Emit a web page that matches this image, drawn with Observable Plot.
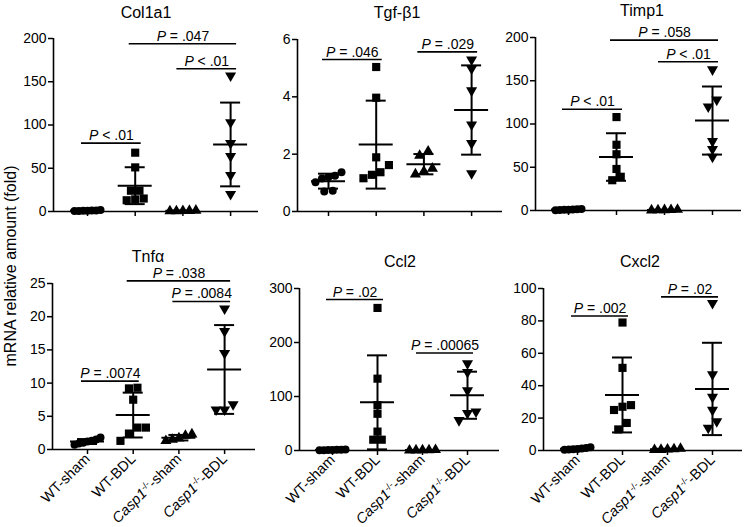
<!DOCTYPE html>
<html><head><meta charset="utf-8">
<script src="https://cdn.jsdelivr.net/npm/d3@7"></script>
<script src="https://cdn.jsdelivr.net/npm/@observablehq/plot@0.6"></script>
<style>
body{margin:0;background:#fff;}
#chart{position:relative;width:747px;height:527px;overflow:hidden;font-family:"Liberation Sans",Arial,sans-serif;color:#000;}
.title{position:absolute;font-size:16px;transform:translate(-50%,-50%);white-space:nowrap;}
.ylab{position:absolute;font-size:16px;white-space:nowrap;transform:translate(-50%,-50%) rotate(-90deg);}
#chart svg{position:absolute;overflow:visible;}
</style></head>
<body><div id="chart"></div>
<script>
// ---------- data ----------
const groups = ["WT-sham", "WT-BDL", "Casp1-/- -sham", "Casp1-/- -BDL"];
const yTitle = "mRNA relative amount (fold)";

const col1a1Ticks = [0, 50, 100, 150, 200];
const col1a1WtSham = [1.6, 1.3, 1.1, 1.0, 0.9, 0.7, 0.5];
const col1a1WtBdl = [68, 51, 24, 24, 15, 14, 13];
const col1a1CaspSham = [1.2, 0.9, 0.7, 0.5, 0.4];
const col1a1CaspBdl = [157, 103, 79, 64, 42, 20];
const col1a1Brackets = [
  {from: 0, to: 1, y: 79, label: "P < .01"},
  {from: 1, to: 3, y: 194, label: "P = .047"},
  {from: 2, to: 3, y: 165, label: "P < .01"}
];

const tgfTicks = [0, 2, 4, 6];
const tgfWtSham = [1.37, 1.25, 1.2, 1.15, 1.02, 0.72, 0.70];
const tgfWtBdl = [5.04, 3.97, 1.89, 1.62, 1.37, 1.28, 1.16];
const tgfCaspSham = [2.1, 1.95, 1.5, 1.4, 1.3];
const tgfCaspBdl = [5.3, 4.98, 4.22, 3.03, 2.38, 1.33];
const tgfBrackets = [
  {from: 0, to: 1, y: 5.3, label: "P = .046"},
  {from: 2, to: 3, y: 5.57, label: "P = .029"}
];

const timp1Ticks = [0, 50, 100, 150, 200];
const timp1WtSham = [1.8, 1.4, 1.1, 1.0, 0.8, 0.6, 0.4];
const timp1WtBdl = [108, 76, 65, 48, 39, 35];
const timp1CaspSham = [1.0, 0.8, 0.6, 0.4, 0.3];
const timp1CaspBdl = [163, 128, 120, 80, 71, 62];
const timp1Brackets = [
  {from: 0, to: 1, y: 117, label: "P < .01"},
  {from: 1, to: 3, y: 197, label: "P = .058"},
  {from: 2, to: 3, y: 172, label: "P < .01"}
];

const tnfTicks = [0, 5, 10, 15, 20, 25];
const tnfWtSham = [1.8, 1.5, 1.3, 1.2, 1.0, 0.9, 0.7];
const tnfWtBdl = [9.3, 9.2, 7.5, 3.3, 3.3, 2.4, 1.3];
const tnfCaspSham = [2.3, 2.1, 1.7, 1.5, 1.3];
const tnfCaspBdl = [21.2, 17.8, 14.5, 6.8, 6.0, 6.0];
const tnfBrackets = [
  {from: 0, to: 1, y: 10.3, label: "P = .0074"},
  {from: 1, to: 3, y: 25.4, label: "P = .038"},
  {from: 2, to: 3, y: 22.3, label: "P = .0084"}
];

const ccl2Ticks = [0, 100, 200, 300];
const ccl2WtSham = [2.0, 1.5, 1.2, 1.0, 0.8, 0.6, 0.4];
const ccl2WtBdl = [264, 133, 84, 68, 35, 20, 20];
const ccl2CaspSham = [1.2, 0.9, 0.7, 0.5, 0.3];
const ccl2CaspBdl = [161, 145, 111, 72, 69, 56];
const ccl2Brackets = [
  {from: 0, to: 1, y: 279.5, label: "P = .02"},
  {from: 2, to: 3, y: 180.6, label: "P = .00065"}
];

const cxcl2Ticks = [0, 20, 40, 60, 80, 100];
const cxcl2WtSham = [2.0, 1.6, 1.3, 1.0, 0.8, 0.6, 0.4];
const cxcl2WtBdl = [79, 51, 28, 27, 25, 17, 13];
const cxcl2CaspSham = [1.2, 0.9, 0.7, 0.5, 0.4];
const cxcl2CaspBdl = [91, 47, 33, 25, 18, 14];
const cxcl2Brackets = [
  {from: 0, to: 1, y: 83, label: "P = .002"},
  {from: 2, to: 3, y: 94.8, label: "P = .02"}
];

// ---------- panels ----------
const panels = [
  {title: "Col1a1", ticks: col1a1Ticks, series: [col1a1WtSham, col1a1WtBdl, col1a1CaspSham, col1a1CaspBdl], brackets: col1a1Brackets},
  {title: "Tgf-β1", ticks: tgfTicks, series: [tgfWtSham, tgfWtBdl, tgfCaspSham, tgfCaspBdl], brackets: tgfBrackets},
  {title: "Timp1", ticks: timp1Ticks, series: [timp1WtSham, timp1WtBdl, timp1CaspSham, timp1CaspBdl], brackets: timp1Brackets},
  {title: "Tnfα", ticks: tnfTicks, series: [tnfWtSham, tnfWtBdl, tnfCaspSham, tnfCaspBdl], brackets: tnfBrackets},
  {title: "Ccl2", ticks: ccl2Ticks, series: [ccl2WtSham, ccl2WtBdl, ccl2CaspSham, ccl2CaspBdl], brackets: ccl2Brackets},
  {title: "Cxcl2", ticks: cxcl2Ticks, series: [cxcl2WtSham, cxcl2WtBdl, cxcl2CaspSham, cxcl2CaspBdl], brackets: cxcl2Brackets}
];

// layout (page pixels)
const layouts = [
  {left: 53, right: 258, top: 38, bottom: 211, x0: 87, step: 47.7, titleX: 146, titleY: 13, bottomRow: false},
  {left: 297, right: 502, top: 39, bottom: 211, x0: 328, step: 47.7, titleX: 397, titleY: 13, bottomRow: false},
  {left: 535, right: 741, top: 37, bottom: 210, x0: 568, step: 48, titleX: 642, titleY: 11, bottomRow: false},
  {left: 52, right: 255, top: 283, bottom: 449, x0: 87, step: 45.7, titleX: 148, titleY: 257, bottomRow: true},
  {left: 299, right: 499, top: 288, bottom: 450, x0: 332, step: 45, titleX: 400, titleY: 262, bottomRow: true},
  {left: 543, right: 742, top: 288, bottom: 450, x0: 577, step: 45, titleX: 640, titleY: 262, bottomRow: true}
];

const s3 = Math.sqrt(3);
const triangleDown = {draw(ctx, size) {
  const y = -Math.sqrt(size / (s3 * 3));
  ctx.moveTo(0, -y * 2); ctx.lineTo(-s3 * y, y); ctx.lineTo(s3 * y, y); ctx.closePath();
}};
const symbols = ["circle", "square", "triangle", triangleDown];
const radii = [4, 4.6, 4.1, 4.1];

function swarm(values, yS, maxSpread, spacing) {
  const idx = values.map((v, i) => i).sort((a, b) => values[a] - values[b]);
  const off = new Array(values.length).fill(0);
  const rows = []; let row = [idx[0]];
  for (let k = 1; k < idx.length; k++) {
    if (Math.abs(yS(values[idx[k]]) - yS(values[idx[k - 1]])) < 7.5) row.push(idx[k]);
    else { rows.push(row); row = [idx[k]]; }
  }
  rows.push(row);
  for (const r of rows) {
    const n = r.length; if (n < 2) continue;
    const sp = Math.min(spacing, maxSpread / (n - 1));
    r.forEach((j, k) => off[j] = (k - (n - 1) / 2) * sp);
  }
  return off;
}

const chart = document.getElementById("chart");

panels.forEach((p, pi) => {
  const L = layouts[pi];
  const mL = 45, mR = 12, mT = 60, mB = L.bottomRow ? 78 : 14;
  const fw = L.right - L.left, fh = L.bottom - L.top;
  const xDomain = [(L.left - L.x0) / L.step, (L.right - L.x0) / L.step];
  const ymax = p.ticks[p.ticks.length - 1];
  const yS = d3.scaleLinear([0, ymax], [fh, 0]);
  const pts = [], stats = [];
  p.series.forEach((vals, g) => {
    const off = swarm(vals, yS, 26, 8.5);
    vals.forEach((v, i) => pts.push({g, x: g + off[i] / L.step, y: v}));
    const m = d3.mean(vals), s = d3.deviation(vals);
    stats.push({g, m, lo: m - s, hi: m + s});
  });
  const cap = 10 / L.step, mw = 17 / L.step, ext = 6 / L.step;
  const marks = [
    Plot.ruleY([0], {stroke: "black", strokeWidth: 1.6}),
    Plot.ruleX([{x: xDomain[0], y1: 0, y2: ymax}], {x: "x", y1: "y1", y2: "y2", stroke: "black", strokeWidth: 1.6}),
    Plot.axisY({ticks: p.ticks, tickSize: 5, tickPadding: 2, fontSize: 14, label: null, strokeWidth: 1.5, tickFormat: d => String(d)}),
    Plot.axisX({ticks: [0, 1, 2, 3], tickSize: 5, tickPadding: 2, label: null, strokeWidth: 1.5, fontSize: 14.5,
      tickRotate: L.bottomRow ? -45 : 0, tickFormat: L.bottomRow ? (i => groups[i]) : (() => "")}),
    Plot.ruleX(stats, {x: "g", y1: "lo", y2: "hi", stroke: "black", strokeWidth: 2}),
    Plot.ruleY(stats, {y: "hi", x1: d => d.g - cap, x2: d => d.g + cap, stroke: "black", strokeWidth: 2}),
    Plot.ruleY(stats, {y: "lo", x1: d => d.g - cap, x2: d => d.g + cap, stroke: "black", strokeWidth: 2}),
    Plot.ruleY(stats, {y: "m", x1: d => d.g - mw, x2: d => d.g + mw, stroke: "black", strokeWidth: 2}),
    ...[0, 1, 2, 3].map(g => Plot.dot(pts.filter(d => d.g === g), {x: "x", y: "y", symbol: symbols[g], r: radii[g], fill: "black", stroke: "none"})),
    Plot.ruleY(p.brackets, {y: "y", x1: d => d.from - ext, x2: d => d.to + ext, stroke: "black", strokeWidth: 1.6}),
    Plot.text(p.brackets, {x: d => (d.from + d.to) / 2, y: "y", text: "label", dy: -3, lineAnchor: "bottom", fontSize: 14, fill: "black"})
  ];
  const svg = Plot.plot({
    width: fw + mL + mR, height: fh + mT + mB,
    marginLeft: mL, marginRight: mR, marginTop: mT, marginBottom: mB,
    x: {type: "linear", domain: xDomain},
    y: {type: "linear", domain: [0, ymax]},
    style: {fontFamily: '"Liberation Sans", Arial, sans-serif', fontSize: "14px", color: "black", background: "transparent", overflow: "visible"},
    marks
  });
  svg.style.left = (L.left - mL) + "px";
  svg.style.top = (L.top - mT) + "px";
  // rich text: italic P, italic Casp1 with superscript -/-
  d3.select(svg).selectAll("text").each(function() {
    const t = this.textContent;
    const sel = d3.select(this);
    if (/^P [=<]/.test(t)) {
      sel.text(null);
      sel.append("tspan").attr("font-style", "italic").text("P");
      sel.append("tspan").text(t.slice(1));
    } else if (t.startsWith("Casp1")) {
      sel.text(null);
      sel.append("tspan").attr("font-style", "italic").text("Casp1");
      sel.append("tspan").attr("dy", -5).attr("font-size", 9).text("-/-");
      sel.append("tspan").attr("dy", 5).text(t.slice(9));
    }
  });
  chart.appendChild(svg);
  const title = document.createElement("div");
  title.className = "title";
  title.textContent = p.title;
  title.style.left = L.titleX + "px";
  title.style.top = L.titleY + "px";
  chart.appendChild(title);
});

const yl = document.createElement("div");
yl.className = "ylab";
yl.textContent = yTitle;
yl.style.left = "11px";
yl.style.top = "266px";
chart.appendChild(yl);
</script>
</body></html>
